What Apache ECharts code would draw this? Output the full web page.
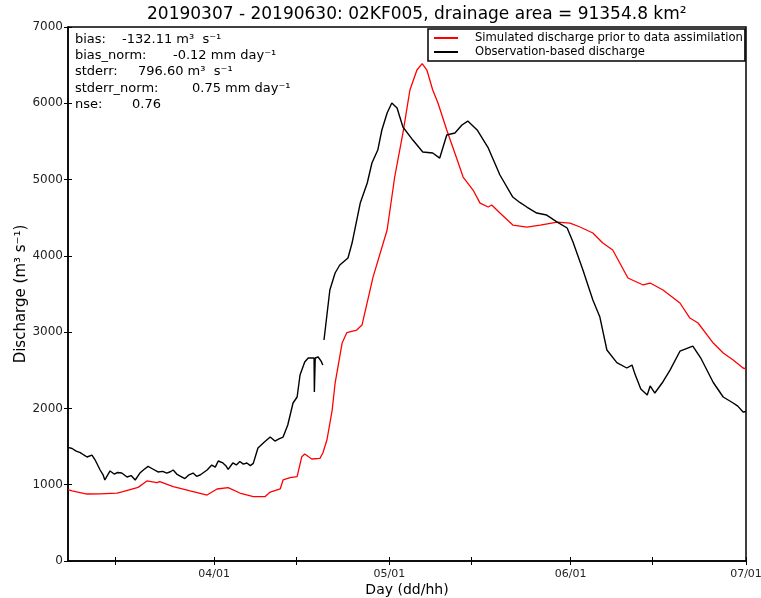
<!DOCTYPE html>
<html>
<head>
<meta charset="utf-8">
<script src="https://cdn.jsdelivr.net/npm/echarts@6/dist/echarts.min.js"></script>
<style>html,body{margin:0;padding:0;background:#fff}#c{width:761px;height:598px}</style>
</head>
<body>
<div id="c"></div>
<script>
// x values are days since 2019-03-07 00:00
var tickDays = [25, 55, 86, 116];
var tickLabels = ['04/01', '05/01', '06/01', '07/01'];
var minorTickDays = [8, 39, 69, 100];

var simDays = [0, 0.7, 3.25, 5.5, 8.4, 9.4, 12.0, 13.5, 15.2, 15.7, 18.0, 20.9, 23.8, 25.5, 27.4, 29.4, 31.7, 33.7, 34.6, 36.3, 36.8, 38.0, 39.2, 40.0, 40.5, 41.7, 43.1, 43.6, 44.3, 45.2, 45.7, 46.9, 47.7, 49.4, 50.3, 52.2, 54.6, 55.9, 57.3, 58.5, 59.7, 60.6, 61.4, 62.4, 63.3, 64.8, 66.6, 67.6, 69.3, 70.5, 71.9, 72.5, 73.9, 76.1, 78.5, 80.8, 83.7, 85.9, 87.6, 89.8, 91.5, 93.2, 95.8, 98.4, 99.6, 101.8, 104.7, 106.4, 107.8, 110.4, 112.1, 113.8, 115.5, 116];
var simValues = [935, 920, 878, 880, 891, 908, 965, 1049, 1026, 1040, 974, 918, 865, 944, 961, 891, 843, 843, 904, 944, 1062, 1092, 1105, 1367, 1403, 1337, 1346, 1415, 1586, 1979, 2333, 2857, 2993, 3028, 3093, 3725, 4339, 5037, 5610, 6174, 6436, 6520, 6436, 6174, 6003, 5650, 5256, 5033, 4863, 4692, 4640, 4666, 4561, 4404, 4378, 4404, 4443, 4430, 4378, 4300, 4168, 4077, 3710, 3618, 3644, 3552, 3382, 3185, 3120, 2857, 2726, 2635, 2530, 2520];

var obsDays = [0, 0.7, 1.4, 2.1, 2.7, 3.25, 4.1, 4.6, 5.5, 6.0, 6.3, 6.8, 7.2, 7.9, 8.5, 9.2, 10.1, 10.8, 11.5, 12.3, 13.0, 13.7, 14.5, 15.4, 16.2, 16.9, 17.5, 18.0, 18.6, 19.2, 20.0, 20.7, 21.4, 22.0, 22.6, 23.2, 23.8, 24.6, 25.2, 25.7, 26.5, 27.0, 27.4, 28.2, 28.8, 29.4, 30.0, 30.6, 31.2, 31.7, 32.5, 32.8, 33.6, 34.6, 35.4, 36.1, 36.8, 37.6, 38.5, 39.2, 39.7, 40.5, 41.1, 42.1, 42.15, 42.25, 42.3, 42.8, 43.3, 43.6, 43.7, 43.8, 44.8, 45.7, 46.5, 47.9, 48.6, 50.0, 51.2, 52.0, 53.0, 53.7, 54.6, 55.4, 56.3, 57.3, 59.0, 60.7, 62.4, 63.6, 64.8, 66.2, 67.4, 68.4, 70.0, 71.9, 73.9, 76.1, 77.3, 78.5, 80.2, 81.9, 83.7, 85.4, 86.4, 88.1, 89.8, 91.0, 92.2, 93.9, 95.6, 96.5, 97.0, 98.0, 99.1, 99.6, 100.4, 101.8, 103.0, 104.7, 106.9, 108.3, 110.4, 112.1, 113.8, 114.6, 115.5, 116];
var obsValues = [1490, 1475, 1440, 1420, 1390, 1363, 1389, 1330, 1193, 1130, 1062, 1130, 1180, 1140, 1160, 1153, 1101, 1120, 1062, 1153, 1200, 1240, 1206, 1167, 1175, 1153, 1170, 1193, 1140, 1114, 1080, 1130, 1153, 1110, 1127, 1160, 1193, 1258, 1230, 1311, 1285, 1250, 1200, 1285, 1260, 1305, 1270, 1285, 1250, 1280, 1481, 1494, 1560, 1625, 1573, 1600, 1625, 1783, 2071, 2150, 2438, 2608, 2661, 2661, 2215, 2215, 2661, 2674, 2620, 2569, null, 2897, 3552, 3775, 3880, 3972, 4168, 4692, 4955, 5217, 5387, 5650, 5872, 6003, 5938, 5689, 5518, 5361, 5348, 5282, 5584, 5610, 5715, 5767, 5650, 5414, 5060, 4771, 4700, 4640, 4561, 4535, 4443, 4365, 4181, 3814, 3421, 3198, 2766, 2600, 2530, 2569, 2450, 2255, 2176, 2295, 2202, 2350, 2503, 2750, 2818, 2655, 2340, 2150, 2071, 2030, 1953, 1960];

var statNames = ['bias:', 'bias_norm:', 'stderr:', 'stderr_norm:', 'nse:'];
var statValues = ['-132.11 m\u00b3  s\u207b\u00b9', '-0.12 mm day\u207b\u00b9', '796.60 m\u00b3  s\u207b\u00b9', '0.75 mm day\u207b\u00b9', '0.76'];
var statValueX = [122, 173, 138, 192, 132];

function zip(a, b) { return a.map(function (d, i) { return [d, b[i]]; }); }

var chart = echarts.init(document.getElementById('c'), null, { renderer: 'canvas' });
var FONT = 'DejaVu Sans';
var labelMap = {};
tickDays.forEach(function (d, i) { labelMap[d] = tickLabels[i]; });
var allTicks = tickDays.concat(minorTickDays).sort(function (a, b) { return a - b; });

var graphics = [];
statNames.forEach(function (n, i) {
  graphics.push({ type: 'text', left: 75, top: 33 + i * 16.3, style: { text: n, font: '13px "DejaVu Sans"', fill: '#000' } });
  graphics.push({ type: 'text', left: statValueX[i], top: 33 + i * 16.3, style: { text: statValues[i], font: '13px "DejaVu Sans"', fill: '#000' } });
});

chart.setOption({
  animation: false,
  textStyle: { fontFamily: FONT },
  title: {
    text: '20190307 - 20190630: 02KF005, drainage area = 91354.8 km\u00b2',
    left: 142, top: 1,
    textStyle: { fontFamily: FONT, fontSize: 17, fontWeight: 'normal', color: '#000' }
  },
  grid: { left: 68, right: 15, top: 27, bottom: 37, outerBoundsMode: 'none', containLabel: false, show: true, borderColor: '#000', borderWidth: 1.5, backgroundColor: 'transparent' },
  legend: {
    orient: 'vertical', left: 428, top: 29,
    padding: [3, 2, 3, 6], itemGap: 2,
    itemWidth: 24, itemHeight: 2, icon: 'rect',
    borderColor: '#000', borderWidth: 1.5,
    textStyle: { fontFamily: FONT, fontSize: 11.6, color: '#000', padding: [0, 0, 0, 12] },
    data: ['Simulated discharge prior to data assimilation', 'Observation-based discharge']
  },
  xAxis: [{
    type: 'value', min: 0, max: 116,
    name: 'Day (dd/hh)', nameLocation: 'middle', nameGap: 22, nameMoveOverlap: false,
    nameTextStyle: { fontFamily: FONT, fontSize: 14, color: '#000' },
    axisLine: { show: true, lineStyle: { color: '#000', width: 1.5 } },
    axisTick: { show: true, inside: true, length: 4, customValues: allTicks, lineStyle: { color: '#000' } },
    axisLabel: { customValues: tickDays, formatter: function (v) { return labelMap[v] || ''; }, fontFamily: FONT, fontSize: 11, color: '#222', margin: 8 },
    splitLine: { show: false }
  }, {
    type: 'value', min: 0, max: 116, position: 'top',
    axisLine: { show: false },
    axisTick: { show: true, inside: true, length: 4, customValues: allTicks, lineStyle: { color: '#000' } },
    axisLabel: { show: false }, splitLine: { show: false }
  }],
  yAxis: [{
    type: 'value', min: 0, max: 7000, interval: 1000,
    name: 'Discharge (m\u00b3 s\u207b\u00b9)', nameLocation: 'middle', nameGap: 39, nameMoveOverlap: false,
    nameTextStyle: { fontFamily: FONT, fontSize: 15, color: '#000' },
    axisLine: { show: true, lineStyle: { color: '#000', width: 1.5 } },
    axisTick: { show: true, inside: true, length: 4, lineStyle: { color: '#000' } },
    axisLabel: { fontFamily: FONT, fontSize: 12, color: '#222', margin: 5, formatter: function (v) { return String(v); } },
    splitLine: { show: false }
  }, {
    type: 'value', min: 0, max: 7000, interval: 1000, position: 'right',
    axisLine: { show: false },
    axisTick: { show: true, inside: true, length: 4, lineStyle: { color: '#000' } },
    axisLabel: { show: false }, splitLine: { show: false }
  }],
  graphic: graphics,
  series: [{
    name: 'Simulated discharge prior to data assimilation', type: 'line',
    data: zip(simDays, simValues), showSymbol: false, symbol: 'none',
    lineStyle: { color: '#ff0000', width: 1.3 }, itemStyle: { color: '#ff0000' }
  }, {
    name: 'Observation-based discharge', type: 'line',
    data: zip(obsDays, obsValues), showSymbol: false, symbol: 'none', connectNulls: false,
    lineStyle: { color: '#000', width: 1.4 }, itemStyle: { color: '#000' }
  }]
});
</script>
</body>
</html>
